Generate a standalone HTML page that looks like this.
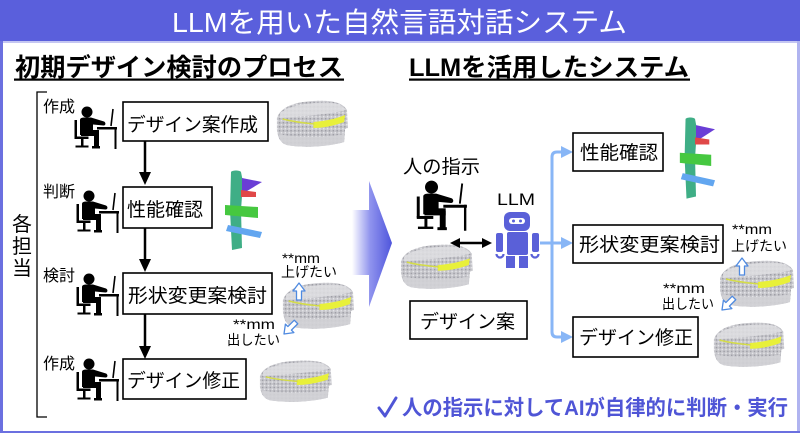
<!DOCTYPE html>
<html><head><meta charset="utf-8"><style>
html,body{margin:0;padding:0;background:#fff;}
svg{display:block;}
text{font-family:"Liberation Sans","Noto Sans CJK JP",sans-serif;}
</style></head><body>
<svg width="800" height="433" viewBox="0 0 800 433" xmlns="http://www.w3.org/2000/svg">
<defs>
 <linearGradient id="bigarrow" x1="352" y1="0" x2="392" y2="0" gradientUnits="userSpaceOnUse">
  <stop offset="0" stop-color="#ffffff"/>
  <stop offset="0.45" stop-color="#9094ee"/>
  <stop offset="1" stop-color="#4f55dc"/>
 </linearGradient>
 <pattern id="spk" width="4" height="4" patternUnits="userSpaceOnUse">
  <rect width="4" height="4" fill="#c6c6cb"/>
  <rect x="0" y="0" width="1.5" height="1.5" fill="#9e9ea6"/>
  <rect x="2" y="2" width="1.5" height="1.5" fill="#e4e4e8"/>
 </pattern>
 <g id="person">
  <circle cx="14" cy="6" r="5.5" fill="#000"/>
  <path d="M7,14 C7,12 9,11.5 12,11.5 L18,11.5 L31,15.5 C33,16.5 33,19.5 30.5,19.5 L20,18.5 L20,29 L7,29 Z" fill="#000"/>
  <rect x="8" y="24" width="18" height="6" fill="#000"/>
  <rect x="21" y="26" width="5" height="16" fill="#000"/>
  <rect x="19" y="40" width="8" height="2.5" fill="#000"/>
  <rect x="1.5" y="14" width="2.5" height="18" fill="#000"/>
  <rect x="1.5" y="30.5" width="14" height="2.5" fill="#000"/>
  <rect x="8" y="32" width="2.5" height="8" fill="#000"/>
  <rect x="2.5" y="39.5" width="13" height="2" fill="#000"/>
  <rect x="24" y="21" width="20" height="2.5" fill="#000"/>
  <rect x="41.5" y="21" width="2" height="22" fill="#000"/>
  <path d="M40,3 L38,20" stroke="#000" stroke-width="1.6"/>
 </g>
 <g id="car">
  <path d="M2,20 C6,9 20,4 40,3 C58,2 70,4 75,12 L76,30 L73,31 L72,44 C55,49 28,50 12,47 C6,45 3,40 2,32 Z" fill="url(#spk)"/>
  <path d="M5,16 C12,8 32,5 52,4.5 C64,4.5 70,7 74,12 C60,16 32,18 5,20 Z" fill="#dedee2" opacity="0.85"/>
  <path d="M4,36 C25,40 50,40 72,36 L72,44 C55,49 28,50 12,47 C7,45 4,41 4,36 Z" fill="#d2d2d6" opacity="0.9"/>
  <path d="M40,24 C52,23 63,21 73,17 L72,24 C61,28 50,30 40,30 Z" fill="#e8f03a"/>
  <path d="M8,21 C20,24 30,25 41,26" stroke="#d4dc48" stroke-width="1.6" fill="none"/>
 </g>
 <g id="col">
  <path d="M9,2 C10,0 18,0 19,2 L21,12 L19,40 L20,78 L10,80 L8,40 Z" fill="#3fae86"/>
  <path d="M20,8 L40,12 L20,24 Z" fill="#6a3ed6"/>
  <path d="M19,20 L34,22 L34,27 L19,27 Z" fill="#e04848"/>
  <path d="M3,35 L36,37 L36,48 L3,45 Z" fill="#46c840"/>
  <path d="M6,55 L40,62 L38,68 L4,61 Z" fill="#62a6f0"/>
 </g>
 <g id="upa"><path d="M0,8 L6,0 L12,8 L8.5,8 L8.5,17 L3.5,17 L3.5,8 Z" fill="#fff" stroke="#4f8ae0" stroke-width="1.3" stroke-linejoin="round"/></g>
</defs>

<!-- frame -->
<rect x="0" y="0" width="800" height="41" fill="#5a5fdc"/>
<rect x="0" y="41" width="800" height="2" fill="#c4c6f2"/>
<rect x="0" y="41" width="3" height="392" fill="#6b70e0"/>
<rect x="797" y="41" width="3" height="392" fill="#b0b4f0"/>
<rect x="0" y="431" width="800" height="2" fill="#6b70e0"/>
<text x="172" y="32" font-size="28" fill="#fff" textLength="455" lengthAdjust="spacingAndGlyphs">LLMを用いた自然言語対話システム</text>

<!-- headings -->
<text x="15" y="76" font-size="25" font-weight="bold" textLength="328" lengthAdjust="spacingAndGlyphs">初期デザイン検討のプロセス</text>
<rect x="14" y="78.5" width="330" height="2.2" fill="#000"/>
<text x="409" y="76" font-size="25" font-weight="bold" textLength="280" lengthAdjust="spacingAndGlyphs">LLMを活用したシステム</text>
<rect x="409" y="78.5" width="281" height="2.2" fill="#000"/>

<!-- bracket -->
<path d="M47,92 L37,92 L37,417 L47,417" stroke="#000" stroke-width="1.3" fill="none"/>
<text x="12" y="231" font-size="20">各</text>
<text x="12" y="253" font-size="20">担</text>
<text x="12" y="275" font-size="20">当</text>

<!-- left labels -->
<text x="43" y="112" font-size="16">作成</text>
<text x="43" y="197" font-size="16">判断</text>
<text x="43" y="281" font-size="16">検討</text>
<text x="43" y="369" font-size="16">作成</text>

<use href="#person" transform="translate(73,106)"/>
<use href="#person" transform="translate(75,190)"/>
<use href="#person" transform="translate(75,273)"/>
<use href="#person" transform="translate(75,358)"/>

<!-- left boxes -->
<g fill="#fff" stroke="#000" stroke-width="1.6">
 <rect x="123" y="102" width="145" height="39"/>
 <rect x="123" y="187" width="89" height="41"/>
 <rect x="123" y="273" width="149" height="41"/>
 <rect x="123" y="359" width="123" height="40"/>
</g>
<text x="127" y="131" font-size="19" textLength="131" lengthAdjust="spacingAndGlyphs">デザイン案作成</text>
<text x="127" y="216" font-size="19" textLength="76" lengthAdjust="spacingAndGlyphs">性能確認</text>
<text x="128" y="302" font-size="19" textLength="139" lengthAdjust="spacingAndGlyphs">形状変更案検討</text>
<text x="127" y="387" font-size="19" textLength="113" lengthAdjust="spacingAndGlyphs">デザイン修正</text>

<!-- down arrows -->
<g stroke="#000" stroke-width="2.5">
 <line x1="145" y1="141" x2="145" y2="174"/>
 <line x1="145" y1="228" x2="145" y2="261"/>
 <line x1="145" y1="314" x2="145" y2="347"/>
</g>
<g fill="#000">
 <polygon points="139,172 151,172 145,185"/>
 <polygon points="139,259 151,259 145,272"/>
 <polygon points="139,346 151,346 145,359"/>
</g>

<!-- left images -->
<use href="#car" transform="translate(275,98) scale(0.96,1)"/>
<use href="#col" transform="translate(222,170)"/>
<use href="#car" transform="translate(281,280) scale(0.96,1)"/>
<use href="#car" transform="translate(258,358) scale(0.97,0.9)"/>
<use href="#upa" transform="translate(293,283)"/>
<use href="#upa" transform="translate(290,328) rotate(225) translate(-6,-8.5)"/>
<text x="282" y="263" font-size="14" textLength="38" lengthAdjust="spacingAndGlyphs">**mm</text>
<text x="281" y="277" font-size="14" textLength="56" lengthAdjust="spacingAndGlyphs">上げたい</text>
<text x="233" y="329" font-size="14" textLength="42" lengthAdjust="spacingAndGlyphs">**mm</text>
<text x="227" y="345" font-size="14" textLength="53" lengthAdjust="spacingAndGlyphs">出したい</text>

<!-- big arrow -->
<polygon points="352,210 369,210 369,181 392,243 369,307 369,275 352,275" fill="url(#bigarrow)"/>

<!-- right: human -->
<text x="403" y="173" font-size="19" textLength="77" lengthAdjust="spacingAndGlyphs">人の指示</text>
<use href="#person" transform="translate(415,180) scale(1.18)"/>
<use href="#car" transform="translate(399,242) scale(0.97,0.96)"/>

<!-- double arrow -->
<line x1="457" y1="243" x2="485" y2="243" stroke="#000" stroke-width="2.5"/>
<polygon points="450,243 460,238 460,248" fill="#000"/>
<polygon points="492,243 482,238 482,248" fill="#000"/>

<!-- LLM robot -->
<text x="497" y="205" font-size="17" textLength="38" lengthAdjust="spacingAndGlyphs">LLM</text>
<g fill="#5a60d8">
 <rect x="504" y="212" width="26" height="19" rx="6"/>
 <rect x="507" y="232" width="21" height="23" rx="2"/>
 <rect x="496" y="233" width="7" height="19" rx="2"/>
 <rect x="532" y="233" width="7" height="19" rx="2"/>
 <rect x="506" y="256" width="9" height="12"/>
 <rect x="519" y="256" width="9" height="12"/>
</g>
<rect x="509" y="218" width="16" height="6" rx="3" fill="#fff"/>
<circle cx="513.5" cy="221" r="1.5" fill="#5a60d8"/>
<circle cx="520.5" cy="221" r="1.5" fill="#5a60d8"/>
<path d="M496.5,254 a3.5,3.5 0 1 0 7,0" stroke="#5a60d8" stroke-width="2.2" fill="none"/>
<path d="M531.5,254 a3.5,3.5 0 1 0 7,0" stroke="#5a60d8" stroke-width="2.2" fill="none"/>

<!-- design plan box -->
<rect x="410" y="301" width="117" height="38" fill="#fff" stroke="#000" stroke-width="1.6"/>
<text x="420" y="328" font-size="19" textLength="95" lengthAdjust="spacingAndGlyphs">デザイン案</text>

<!-- connectors -->
<g stroke="#88b6f6" stroke-width="3" fill="none">
 <path d="M540,243 L562,243"/>
 <path d="M563,152 L557,152 Q552,152 552,157 L552,332 Q552,337 557,337 L563,337"/>
</g>
<g fill="#88b6f6">
 <polygon points="561,146 573,152 561,158"/>
 <polygon points="561,237 573,243 561,249"/>
 <polygon points="561,331 573,337 561,343"/>
</g>

<!-- right boxes -->
<g fill="#fff" stroke="#000" stroke-width="1.6">
 <rect x="573" y="133" width="90" height="38"/>
 <rect x="573" y="225" width="150" height="38"/>
 <rect x="573" y="317" width="125" height="40"/>
</g>
<text x="580" y="159" font-size="19" textLength="78" lengthAdjust="spacingAndGlyphs">性能確認</text>
<text x="579" y="251" font-size="19" textLength="141" lengthAdjust="spacingAndGlyphs">形状変更案検討</text>
<text x="579" y="344" font-size="19" textLength="114" lengthAdjust="spacingAndGlyphs">デザイン修正</text>

<!-- right images -->
<use href="#col" transform="translate(677,117) scale(0.95,1.02)"/>
<use href="#car" transform="translate(718,258)"/>
<use href="#car" transform="translate(712,320) scale(0.95,0.96)"/>
<use href="#upa" transform="translate(736,258)"/>
<use href="#upa" transform="translate(728,304) rotate(225) translate(-6,-8.5)"/>
<text x="732" y="234" font-size="14" textLength="40" lengthAdjust="spacingAndGlyphs">**mm</text>
<text x="731" y="251" font-size="14" textLength="56" lengthAdjust="spacingAndGlyphs">上げたい</text>
<text x="663" y="293" font-size="14" textLength="42" lengthAdjust="spacingAndGlyphs">**mm</text>
<text x="662" y="309" font-size="14" textLength="52" lengthAdjust="spacingAndGlyphs">出したい</text>

<!-- bottom statement -->
<path d="M379,408 L385,416 L396,398" stroke="#4f55d6" stroke-width="3" fill="none" stroke-linecap="round" stroke-linejoin="round"/>
<text x="402" y="415" font-size="21" font-weight="bold" fill="#4f55d6" textLength="386" lengthAdjust="spacingAndGlyphs">人の指示に対してAIが自律的に判断・実行</text>
</svg>
</body></html>
